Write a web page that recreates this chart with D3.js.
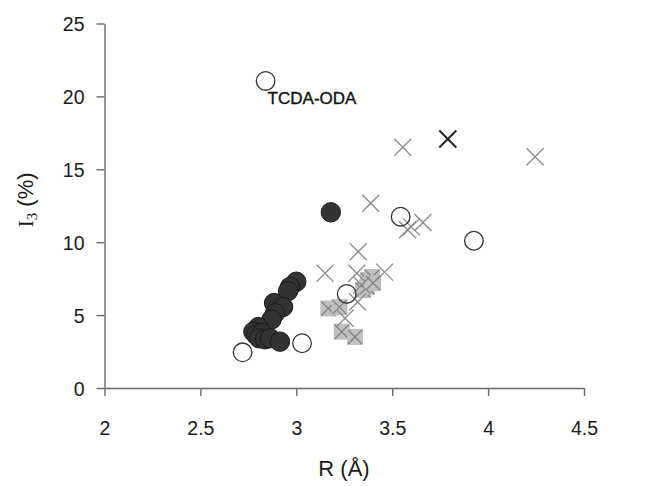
<!DOCTYPE html>
<html><head><meta charset="utf-8">
<script src="https://cdn.jsdelivr.net/npm/d3@7"></script>
<style>body{margin:0;background:#fff}svg{display:block}</style>
</head><body>
<script>
// Data
const xTicks = [2, 2.5, 3, 3.5, 4, 4.5];
const yTicks = [0, 5, 10, 15, 20, 25];
const openCircles = [[2.72,2.45],[2.84,21.06],[3.03,3.07],[3.263,6.45],[3.544,11.75],[3.926,10.1]];
const filledCircles = [[3.18,12.05],[3.0,7.29],[2.967,6.93],[2.957,6.65],[2.884,5.83],[2.931,5.56],[2.889,5.12],[2.871,4.70],[2.802,4.18],[2.776,3.86],[2.79,3.64],[2.82,3.77],[2.807,3.41],[2.837,3.34],[2.863,3.41],[2.915,3.18]];
const squares = [[3.167,5.45],[3.225,5.55],[3.237,3.86],[3.306,3.50],[3.348,6.72],[3.369,6.93],[3.374,7.41],[3.395,7.61],[3.40,7.2]];
const grayCrosses = [[3.15,7.87],[3.315,7.87],[3.46,7.95],[3.323,9.35],[3.388,12.67],[3.555,16.51],[4.245,15.86],[3.58,10.85],[3.60,11.05],[3.66,11.35],[3.254,4.78],[3.32,5.9],[3.34,7.06]];
const blackCrosses = [[3.79,17.08]];
const label = {text:"TCDA-ODA", x:2.84, y:21.06};

const W=653,H=486;
const svg=d3.select("body").append("svg").attr("width",W).attr("height",H);
const x=d3.scaleLinear().domain([2,4.5]).range([104.5,584]);
const y=d3.scaleLinear().domain([0,25]).range([388,23.5]);

const font="Arial, 'Liberation Sans', sans-serif";
// axes
const xa=svg.append("g").attr("transform","translate(0,388)")
  .call(d3.axisBottom(x).tickValues(xTicks).tickSize(8).tickSizeOuter(0).tickFormat(d3.format("")));
const ya=svg.append("g").attr("transform","translate(104.5,0)")
  .call(d3.axisLeft(y).tickValues(yTicks).tickSize(8).tickSizeOuter(0).tickFormat(d3.format("")));
[xa,ya].forEach(a=>{
  a.select(".domain").attr("stroke","#6a6a6a").attr("stroke-width",1.4);
  a.selectAll(".tick line").attr("stroke","#6a6a6a").attr("stroke-width",1.4);
  a.selectAll(".tick text").attr("fill","#1a1a1a").attr("font-family",font).attr("font-size",19.5);
});
xa.selectAll(".tick text").attr("dy",0).attr("y",47);
ya.selectAll(".tick text").attr("x",-20).attr("dy","0.36em");

// titles
svg.append("text").attr("x",344).attr("y",476).attr("text-anchor","middle")
  .attr("font-family",font).attr("font-size",22).attr("fill","#1a1a1a").text("R (Å)");
const yt=svg.append("text").attr("transform","translate(33,200) rotate(-90)").attr("text-anchor","middle")
  .attr("font-size",22).attr("fill","#1a1a1a");
yt.append("tspan").attr("font-family","'Liberation Serif','Times New Roman',serif").text("I");
yt.append("tspan").attr("font-family","'Liberation Serif','Times New Roman',serif").attr("font-size",15).attr("dy",4).text("3");
yt.append("tspan").attr("font-family",font).attr("dy",-4).text(" (%)");

const g=svg.append("g");
function cross(sel,s,col,sw){
  sel.each(function(d){
    const gg=d3.select(this);
    const cx=x(d[0]),cy=y(d[1]);
    gg.append("line").attr("x1",cx-s).attr("y1",cy-s).attr("x2",cx+s).attr("y2",cy+s).attr("stroke",col).attr("stroke-width",sw);
    gg.append("line").attr("x1",cx-s).attr("y1",cy+s).attr("x2",cx+s).attr("y2",cy-s).attr("stroke",col).attr("stroke-width",sw);
  });
}
// squares with crosses
const sq=g.selectAll("g.sq").data(squares).join("g").attr("class","sq");
sq.append("rect").attr("x",d=>x(d[0])-8).attr("y",d=>y(d[1])-8).attr("width",16).attr("height",16).attr("fill","#c0c0c0");
cross(sq,7,"#808080",1.2);
// gray crosses
cross(g.selectAll("g.gc").data(grayCrosses).join("g").attr("class","gc"),8.5,"#8a8a8a",1.3);
// filled circles
g.selectAll("circle.f").data(filledCircles).join("circle").attr("class","f")
  .attr("cx",d=>x(d[0])).attr("cy",d=>y(d[1])).attr("r",9.7).attr("fill","#333").attr("stroke","#1a1a1a").attr("stroke-width",1);
// open circles
g.selectAll("circle.o").data(openCircles).join("circle").attr("class","o")
  .attr("cx",d=>x(d[0])).attr("cy",d=>y(d[1])).attr("r",9.3).attr("fill","none").attr("stroke","#333").attr("stroke-width",1.3);
// black cross
cross(g.selectAll("g.bc").data(blackCrosses).join("g").attr("class","bc"),8.5,"#222",2);
// label
svg.append("text").attr("x",x(label.x)+2).attr("y",y(label.y)+23).attr("font-family",font)
  .attr("font-size",17).attr("fill","#111").attr("stroke","#111").attr("stroke-width",0.35).text(label.text);
</script>
</body></html>
